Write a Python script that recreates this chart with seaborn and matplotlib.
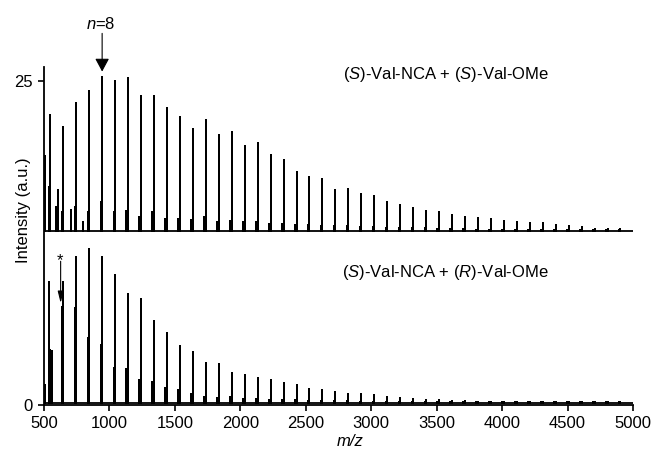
import numpy as np
import pandas as pd
import matplotlib
matplotlib.use('Agg')
import matplotlib.pyplot as plt
import seaborn as sb

#-------------------------------------------------------------------------------------------------
# data
#-------------------------------------------------------------------------------------------------
peak_mz = [548, 647, 746, 845, 944, 1043, 1142, 1241, 1340, 1439,
           1538, 1637, 1736, 1835, 1934, 2033, 2132, 2231, 2330, 2429,
           2528, 2627, 2726, 2825, 2924, 3023, 3122, 3221, 3320, 3419,
           3518, 3617, 3716, 3815, 3914, 4013, 4112, 4211, 4310, 4409,
           4508, 4607, 4706, 4805, 4904]
shoulder_shift = 12

# (S)-Val-NCA + (S)-Val-OMe, offset trace
top_base = 13.45
top_peaks = [22.38, 21.45, 23.33, 24.27, 25.37, 25.02, 25.29, 23.87, 23.87, 22.96,
             22.21, 21.34, 21.99, 20.89, 21.06, 19.98, 20.24, 19.29, 18.96, 18.00,
             17.57, 17.42, 16.64, 16.67, 16.28, 16.13, 15.69, 15.41, 15.25, 14.99,
             14.92, 14.66, 14.53, 14.48, 14.33, 14.22, 14.17, 14.07, 14.02, 13.87,
             13.81, 13.73, 13.60, 13.56, 13.58]
top_shoulders = [16.8, 14.9, 15.3, 14.9, 15.7, 14.9, 15.0, 14.5, 14.9, 14.4,
                 14.4, 14.3, 14.5, 14.1, 14.2, 14.1, 14.1, 14.0, 14.0, 13.9,
                 13.9, 13.85, 13.8, 13.8, 13.75, 13.75, 13.7, 13.7, 13.65, 13.65,
                 13.6, 13.6, 13.6, 13.55, 13.55, 13.55, 13.5, 13.5, 13.5, 13.5,
                 13.5, 13.5, 13.5, 13.5, 13.5]
top_extra_mz = [504, 592, 605, 706, 800]
top_extra = [19.2, 15.3, 16.6, 15.05, 14.1]

# (S)-Val-NCA + (R)-Val-OMe
bot_base = 0.18
bot_peaks = [4.24, 9.47, 11.40, 12.06, 11.40, 10.03, 8.56, 8.20, 6.50, 5.58,
             4.58, 4.09, 3.22, 3.16, 2.49, 2.34, 2.10, 1.93, 1.71, 1.54,
             1.23, 1.16, 0.98, 0.85, 0.83, 0.75, 0.59, 0.52, 0.44, 0.39,
             0.39, 0.33, 0.31, 0.27, 0.26, 0.25, 0.24, 0.22, 0.21, 0.20,
             0.20, 0.20, 0.20, 0.20, 0.20]
bot_shoulders = [9.47, 7.56, 7.46, 5.14, 4.63, 2.83, 2.75, 1.93, 1.75, 1.34,
                 1.16, 0.83, 0.64, 0.56, 0.64, 0.50, 0.45, 0.40, 0.38, 0.35,
                 0.33, 0.30, 0.30, 0.28, 0.27, 0.26, 0.25, 0.24, 0.23, 0.22,
                 0.20, 0.20, 0.20, 0.20, 0.20, 0.20, 0.20, 0.20, 0.20, 0.20,
                 0.20, 0.20, 0.20, 0.20, 0.20]
bot_extra_mz = [504, 562]
bot_extra = [1.54, 4.2]

x_ticks = [500, 1000, 1500, 2000, 2500, 3000, 3500, 4000, 4500, 5000]
y_ticks = [0, 25]
y_ticklabels = ['0', '25']

#-------------------------------------------------------------------------------------------------
# stick spectrum -> long table
#-------------------------------------------------------------------------------------------------
def sticks(name, base, peaks, shoulders, extra_mz, extra):
    events = list(zip(peak_mz, peaks))
    events += [(m - shoulder_shift, h) for m, h in zip(peak_mz, shoulders)]
    events += list(zip(extra_mz, extra))
    rows = [(x_ticks[0], base)]
    for m, h in sorted(events):
        rows += [(m, base), (m, h), (m, base)]
    rows.append((x_ticks[-1], base))
    d = pd.DataFrame(rows, columns=['mz', 'intensity'])
    d['trace'] = name
    return d

spec = pd.concat([sticks('SS', top_base, top_peaks, top_shoulders, top_extra_mz, top_extra),
                  sticks('SR', bot_base, bot_peaks, bot_shoulders, bot_extra_mz, bot_extra)])

#-------------------------------------------------------------------------------------------------
# plot
#-------------------------------------------------------------------------------------------------
sb.set_style('ticks')
plt.rcParams['font.family'] = ['Liberation Sans', 'DejaVu Sans']
plt.rcParams['mathtext.fontset'] = 'custom'
plt.rcParams['mathtext.rm'] = 'Liberation Sans'
plt.rcParams['mathtext.it'] = 'Liberation Sans:italic'
plt.rcParams['text.color'] = 'black'
plt.rcParams['axes.labelcolor'] = 'black'

fig = plt.figure(figsize=(6.56, 4.5), dpi=100)
ax = fig.add_axes([0.0671, 0.1, 0.8979, 0.751])

sb.lineplot(data=spec, x='mz', y='intensity', units='trace', estimator=None, sort=False,
            color='black', lw=1.3, ax=ax)

ax.set_xlim(x_ticks[0], x_ticks[-1])
ax.set_ylim(0, 26.1)
ax.set_xticks(x_ticks)
ax.set_yticks(y_ticks)
ax.set_yticklabels(y_ticklabels)
ax.tick_params(direction='out', length=4.5, width=1.2, labelsize=12, colors='black')
sb.despine(ax=ax)
for s in ['left', 'bottom']:
    ax.spines[s].set_linewidth(1.3)
    ax.spines[s].set_color('black')

ax.set_xlabel('m/z', fontsize=12, fontstyle='italic', color='black')
ax.xaxis.set_label_coords(0.52, -0.085)
ax.set_ylabel('Intensity (a.u.)', fontsize=12, color='black')
ax.yaxis.set_label_coords(-0.022, 0.577)

ax.text(2784, 25.54, '($S$)-Val-NCA + ($S$)-Val-OMe', fontsize=12, va='center', ha='left', color='black')
ax.text(2777, 10.21, '($S$)-Val-NCA + ($R$)-Val-OMe', fontsize=12, va='center', ha='left', color='black')

# n=8 marker
ax.annotate('', xy=(944, 25.75), xytext=(944, 28.7), annotation_clip=False,
            arrowprops=dict(arrowstyle='-|>,head_length=0.8,head_width=0.43', color='black',
                            lw=0.8, shrinkA=0, shrinkB=0))
ax.text(930, 29.45, '$n$=8', fontsize=12, ha='center', va='center', clip_on=False, color='black')

# starred peak
ax.annotate('', xy=(627, 7.87), xytext=(627, 11.1),
            arrowprops=dict(arrowstyle='-|>,head_length=0.7,head_width=0.17', color='black',
                            lw=0.8, shrinkA=0, shrinkB=0))
ax.text(622, 10.84, '*', fontsize=12, ha='center', va='baseline', color='black')

fig.savefig('out.png', dpi=100)
